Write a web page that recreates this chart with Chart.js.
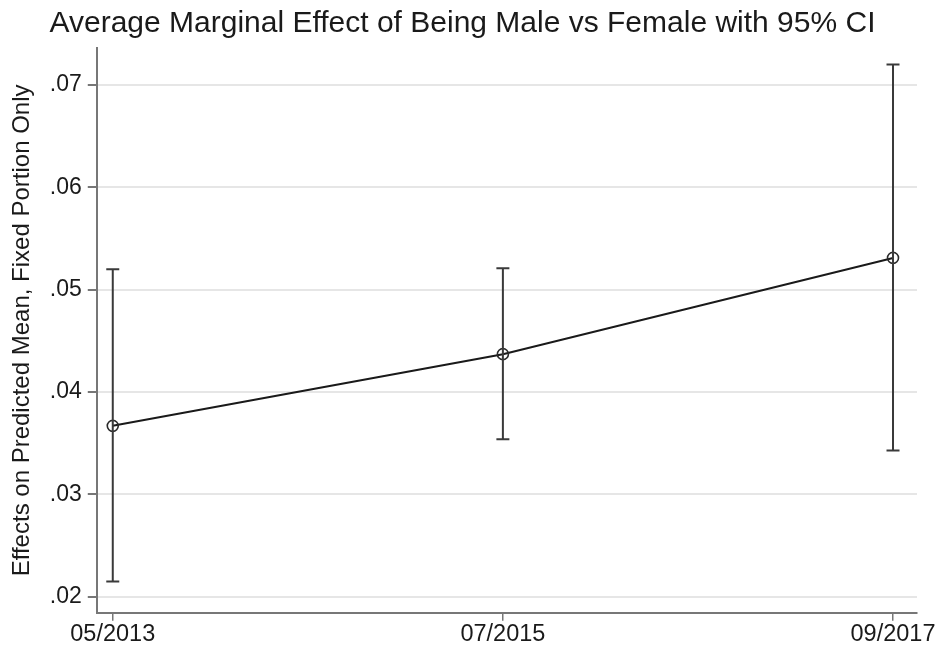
<html>
<head>
    <meta charset="utf-8" />
    <title>Average Marginal Effect</title>
    <script src="https://cdn.jsdelivr.net/npm/chart.js"></script>
    <style>
        body { margin: 0; background: #fff; }
        #wrap { width: 943px; height: 653px; }
    </style>
</head>
<body>
    <div id="wrap"><canvas id="grafico"></canvas></div>
    <script>
        // dados
        const periodos = ['05/2013', '07/2015', '09/2017'];
        const efeito = [0.0367, 0.0437, 0.0531];
        const icInferior = [0.0215, 0.0354, 0.0343];
        const icSuperior = [0.0520, 0.0521, 0.0720];
        const yTicks = [0.02, 0.03, 0.04, 0.05, 0.06, 0.07];

        const fonte = 'Liberation Sans, Arial, Helvetica, sans-serif';

        // barras de erro desenhadas com as escalas do gráfico
        const barrasErro = {
            id: 'barrasErro',
            afterDatasetsDraw(chart) {
                const ctx = chart.ctx;
                const x = chart.scales.x, y = chart.scales.y;
                ctx.save();
                ctx.strokeStyle = '#3a3a3a';
                ctx.lineWidth = 2;
                for (let i = 0; i < efeito.length; i++) {
                    const px = x.getPixelForValue(i);
                    const y1 = y.getPixelForValue(icInferior[i]);
                    const y2 = y.getPixelForValue(icSuperior[i]);
                    ctx.beginPath();
                    ctx.moveTo(px, y1); ctx.lineTo(px, y2);
                    ctx.moveTo(px - 6.5, y1); ctx.lineTo(px + 6.5, y1);
                    ctx.moveTo(px - 6.5, y2); ctx.lineTo(px + 6.5, y2);
                    ctx.stroke();
                }
                ctx.restore();
            }
        };

        new Chart(document.getElementById('grafico'), {
            type: 'line',
            data: {
                datasets: [{
                    data: efeito.map((v, i) => ({ x: i, y: v })),
                    borderColor: '#1a1a1a',
                    borderWidth: 2,
                    pointRadius: 5.5,
                    pointBorderWidth: 1.6,
                    pointBorderColor: '#2a2a2a',
                    pointBackgroundColor: 'rgba(0,0,0,0)',
                    fill: false,
                    tension: 0
                }]
            },
            options: {
                responsive: true,
                maintainAspectRatio: false,
                animation: false,
                layout: { padding: { left: 8, right: 26, top: 6, bottom: 4 } },
                plugins: {
                    legend: { display: false },
                    tooltip: { enabled: false },
                    title: {
                        display: true,
                        text: 'Average Marginal Effect of Being Male vs Female with 95% CI',
                        color: '#1a1a1a',
                        font: { family: fonte, size: 30, weight: 'normal' },
                        padding: { top: 0, bottom: 6 }
                    }
                },
                scales: {
                    x: {
                        type: 'linear',
                        min: -0.041,
                        max: 2.0615,
                        afterBuildTicks: (s) => { s.ticks = periodos.map((p, i) => ({ value: i })); },
                        ticks: {
                            callback: (v) => periodos[v],
                            color: '#1a1a1a',
                            font: { family: fonte, size: 23.5 },
                            padding: 0,
                            maxRotation: 0
                        },
                        grid: { drawOnChartArea: false, tickColor: '#777', tickLength: 8, lineWidth: 1.5 },
                        border: { color: '#777', width: 2 }
                    },
                    y: {
                        min: 0.01844,
                        max: 0.0736,
                        afterBuildTicks: (s) => { s.ticks = yTicks.map(v => ({ value: v })); },
                        ticks: {
                            callback: (v) => v.toFixed(2).replace(/^0/, ''),
                            color: '#1a1a1a',
                            font: { family: fonte, size: 23 },
                            padding: 6
                        },
                        grid: { color: '#e6e6e6', lineWidth: 2, tickColor: '#777', tickLength: 9 },
                        border: { color: '#777', width: 2 },
                        title: {
                            display: true,
                            text: 'Effects on Predicted Mean, Fixed Portion Only',
                            color: '#1a1a1a',
                            font: { family: fonte, size: 24 },
                            padding: { top: 0, bottom: 7 }
                        }
                    }
                }
            },
            plugins: [barrasErro]
        });
    </script>
</body>
</html>
